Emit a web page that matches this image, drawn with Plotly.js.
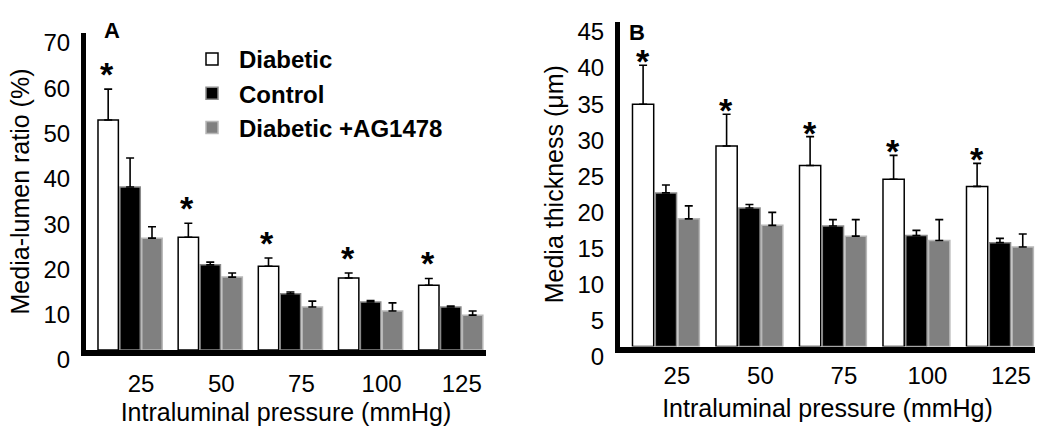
<!DOCTYPE html>
<html>
<head>
<meta charset="utf-8">
<script src="https://cdn.plot.ly/plotly-3.0.1.min.js"></script>
<style>html,body{margin:0;padding:0;background:#fff}#chart{width:1050px;height:442px}</style>
</head>
<body>
<div id="chart"></div>
<script>
// ---- data ----
const pressures = ['25', '50', '75', '100', '125'];
const seriesNames = ['Diabetic', 'Control', 'Diabetic +AG1478'];

// Panel A: media-lumen ratio (%)
const diabeticA = [50.8, 24.9, 18.5, 15.9, 14.3];
const diabeticAErr = [6.8, 3.1, 1.8, 1.1, 1.5];
const controlA = [36.0, 18.8, 12.4, 10.6, 9.5];
const controlAErr = [6.4, 0.6, 0.4, 0.3, 0.2];
const agA = [24.7, 16.1, 9.5, 8.6, 7.7];
const agAErr = [2.5, 0.9, 1.3, 1.8, 0.9];

// Panel B: media thickness (µm)
const diabeticB = [33.6, 27.8, 25.1, 23.2, 22.2];
const diabeticBErr = [5.4, 4.4, 4.0, 3.3, 3.2];
const controlB = [21.3, 19.2, 16.7, 15.4, 14.4];
const controlBErr = [1.1, 0.5, 0.9, 0.7, 0.6];
const agB = [17.7, 16.8, 15.3, 14.7, 13.8];
const agBErr = [1.8, 1.8, 2.3, 2.9, 1.8];

const yTicksA = [0, 10, 20, 30, 40, 50, 60, 70];
const yTicksB = [0, 5, 10, 15, 20, 25, 30, 35, 40, 45];

// ---- styles ----
const FONT = 'Liberation Sans, Arial, sans-serif';
const styles = [
  {fill: '#ffffff', line: '#000000'},
  {fill: '#000000', line: '#8a8a8a'},
  {fill: '#808080', line: '#b8b8b8'}
];

function barTrace(name, vals, errs, idx, xa, ya, showLegend) {
  return {
    type: 'bar', name: name, x: pressures, y: vals,
    xaxis: xa, yaxis: ya, showlegend: showLegend,
    marker: {color: styles[idx].fill, line: {color: styles[idx].line, width: 1.5}},
    error_y: {type: 'data', symmetric: false, array: errs,
              arrayminus: errs.map(() => 0), color: '#000', thickness: 1.6, width: 4},
    hoverinfo: 'skip'
  };
}

const data = [
  barTrace(seriesNames[0], diabeticA, diabeticAErr, 0, 'x', 'y', true),
  barTrace(seriesNames[1], controlA, controlAErr, 1, 'x', 'y', true),
  barTrace(seriesNames[2], agA, agAErr, 2, 'x', 'y', true),
  barTrace(seriesNames[0], diabeticB, diabeticBErr, 0, 'x2', 'y2', false),
  barTrace(seriesNames[1], controlB, controlBErr, 1, 'x2', 'y2', false),
  barTrace(seriesNames[2], agB, agBErr, 2, 'x2', 'y2', false)
];

// asterisks above diabetic bars (x = category index on the category axis)
const annotations = [];
pressures.forEach((p, i) => {
  annotations.push({xref: 'x', yref: 'y', x: i, y: diabeticA[i] + diabeticAErr[i],
    text: '<b>*</b>', showarrow: false, xshift: -23, yshift: -6, yanchor: 'bottom',
    font: {family: FONT, size: 34, color: '#000'}});
  annotations.push({xref: 'x2', yref: 'y2', x: i, y: diabeticB[i] + diabeticBErr[i],
    text: '<b>*</b>', showarrow: false, xshift: -23, yshift: -17, yanchor: 'bottom',
    font: {family: FONT, size: 34, color: '#000'}});
});
annotations.push({xref: 'paper', yref: 'paper', x: 102/1050, y: 1 - 16/442, text: '<b>A</b>',
  showarrow: false, font: {family: FONT, size: 22, color: '#000'}});
annotations.push({xref: 'paper', yref: 'paper', x: 637/1050, y: 1 - 18/442, text: '<b>B</b>',
  showarrow: false, font: {family: FONT, size: 22, color: '#000'}});

const xCommon = {
  type: 'category', showgrid: false, zeroline: false, showline: true, mirror: false,
  linecolor: '#000000', linewidth: 6, ticks: '', ticklabelshift: 11,
  tickfont: {family: FONT, size: 24, color: '#000'}, fixedrange: true
};
const yCommon = {
  showgrid: false, zeroline: false, showline: true, mirror: false, linecolor: '#000000', linewidth: 5,
  ticks: '', tickmode: 'array', ticklabelstandoff: 6, ticklabelshift: 10,
  tickfont: {family: FONT, size: 24, color: '#000'}, fixedrange: true
};

const layout = {
  width: 1050, height: 442,
  margin: {l: 0, r: 0, t: 0, b: 0},
  paper_bgcolor: '#fff', plot_bgcolor: '#fff',
  barmode: 'group', bargap: 0.18, bargroupgap: 0.07,
  font: {family: FONT, color: '#000'},
  xaxis: Object.assign({}, xCommon, {domain: [86/1050, 486/1050], range: [-0.55, 4.44],
    anchor: 'y', ticklabelstandoff: 7,
    title: {text: 'Intraluminal pressure (mmHg)', font: {family: FONT, size: 25, color: '#000'}, standoff: 10}}),
  yaxis: Object.assign({}, yCommon, {domain: [92/442, 409/442], range: [0, 70], anchor: 'x',
    tickvals: yTicksA,
    title: {text: 'Media-lumen ratio (%)', font: {family: FONT, size: 25, color: '#000'}, standoff: 8}}),
  xaxis2: Object.assign({}, xCommon, {domain: [620/1050, 1035/1050], range: [-0.55, 4.42],
    anchor: 'y2', ticklabelstandoff: 3,
    title: {text: 'Intraluminal pressure (mmHg)', font: {family: FONT, size: 25, color: '#000'}, standoff: 13}}),
  yaxis2: Object.assign({}, yCommon, {domain: [95.5/442, 420/442], range: [0, 45], anchor: 'x2',
    tickvals: yTicksB,
    title: {text: 'Media thickness (μm)', font: {family: FONT, size: 25, color: '#000'}, standoff: 8}}),
  showlegend: true,
  legend: {x: 185/1050, y: 1 - 37/442, xanchor: 'left', yanchor: 'top',
    bgcolor: 'rgba(0,0,0,0)', font: {family: FONT, size: 24, color: '#000', weight: 'bold'},
    tracegroupgap: 0, itemwidth: 44},
  annotations: annotations
};

Plotly.newPlot('chart', data, layout, {staticPlot: true, displayModeBar: false});
</script>
</body>
</html>
